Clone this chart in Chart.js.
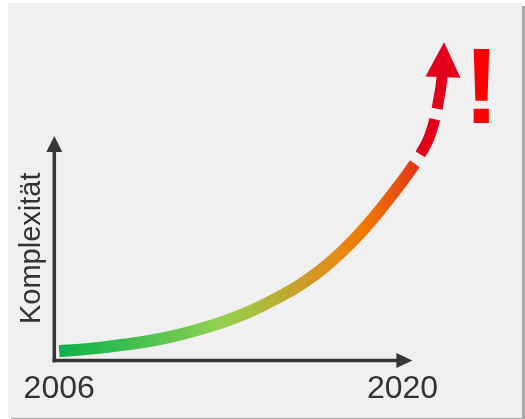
<!DOCTYPE html>
<html>
<head>
<meta charset="utf-8">
<script src="https://cdn.jsdelivr.net/npm/chart.js@4/dist/chart.umd.min.js"></script>
<style>
  html, body { margin: 0; padding: 0; background: #ffffff; }
  canvas { display: block; }
</style>
</head>
<body>
<canvas id="c" width="525" height="419"></canvas>
<script>
// ---- data ----
const years = [2006, 2007, 2008, 2009, 2010, 2011, 2012, 2013, 2014, 2015, 2016, 2017, 2018, 2019, 2020, 2020.5];
const complexity = [4.2, 5.0, 6.2, 7.6, 9.4, 11.8, 14.8, 18.5, 23.0, 28.5, 35.0, 43.3, 53.6, 66.0, 80.0, 87.6];
const forecastYears = [2020.5, 2021.12, 2021.53, 2021.67];
const forecast = [87.6, 100.4, 119.6, 134];
const tickYears = [2006, 2020];
const yAxisTitle = 'Komplexität';
const alertMark = '!';

const FONT = "'Liberation Sans', Arial, sans-serif";
const AXIS_COLOR = '#363636';
const TEXT_COLOR = '#333333';
const DASH_RED = '#e2001a';

function makeGradient(chart) {
  const { ctx, chartArea, scales } = chart;
  if (!chartArea) return '#0db14b';
  const x0 = scales.x.getPixelForValue(years[0]);
  const x1 = scales.x.getPixelForValue(years[years.length - 1]);
  const g = ctx.createLinearGradient(x0, 0, x1, 0);
  const stops = [
    [0.00, '#0db14b'], [0.20, '#40bf50'], [0.45, '#92d050'], [0.54, '#a6c23e'],
    [0.67, '#c8a02a'], [0.78, '#e58a18'], [0.86, '#f07800'], [0.95, '#ea5212'], [1.0, '#e5381a']
  ];
  stops.forEach(s => g.addColorStop(s[0], s[1]));
  return g;
}

const decorPlugin = {
  id: 'decor',
  beforeDraw(chart) {
    const c = chart.ctx;
    c.save();
    c.fillStyle = '#a8a8a8';
    c.fillRect(11, 6, 514, 413);
    c.fillStyle = '#f0f0f0';
    c.fillRect(8, 3, 514, 415);
    c.restore();
  },
  beforeDatasetsDraw(chart) {
    const c = chart.ctx;
    const a = chart.chartArea;
    const xs = chart.scales.x;
    const ox = a.left, oy = a.bottom;
    const xTip = xs.getPixelForValue(2020.4);
    c.save();
    c.strokeStyle = AXIS_COLOR;
    c.fillStyle = AXIS_COLOR;
    c.lineWidth = 3.5;
    c.lineCap = 'butt';
    c.beginPath();
    c.moveTo(ox, oy + 1.75);
    c.lineTo(ox, a.top + 14);
    c.stroke();
    c.beginPath();
    c.moveTo(ox, a.top);
    c.lineTo(ox - 8, a.top + 16);
    c.lineTo(ox + 8, a.top + 16);
    c.closePath();
    c.fill();
    c.beginPath();
    c.moveTo(ox - 1.75, oy);
    c.lineTo(xTip - 14, oy);
    c.stroke();
    c.beginPath();
    c.moveTo(xTip, oy);
    c.lineTo(xTip - 16, oy - 7.5);
    c.lineTo(xTip - 16, oy + 7.5);
    c.closePath();
    c.fill();
    c.restore();
  },
  afterDatasetsDraw(chart) {
    const c = chart.ctx;
    const meta = chart.getDatasetMeta(1);
    const pts = meta.data;
    const p = pts[pts.length - 1];
    c.save();
    c.translate(p.x, p.y);
    c.rotate(0.03);
    c.fillStyle = DASH_RED;
    c.beginPath();
    c.moveTo(0, -17.5);
    c.lineTo(-17.5, 17.5);
    c.lineTo(17.5, 17.5);
    c.closePath();
    c.fill();
    c.restore();
    c.save();
    c.fillStyle = '#ff0000';
    c.font = 'bold 108px ' + FONT;
    c.textAlign = 'center';
    c.textBaseline = 'alphabetic';
    c.fillText(alertMark, 481.5, 123);
    c.restore();
  }
};

new Chart(document.getElementById('c'), {
  type: 'line',
  data: {
    datasets: [
      {
        data: years.map((x, i) => ({ x, y: complexity[i] })),
        borderColor: ctx => makeGradient(ctx.chart),
        borderWidth: 12,
        borderCapStyle: 'butt',
        tension: 0.4,
        pointRadius: 0,
        clip: false,
        fill: false
      },
      {
        data: forecastYears.map((x, i) => ({ x, y: forecast[i] })),
        borderColor: DASH_RED,
        borderWidth: 11,
        borderCapStyle: 'butt',
        borderDash: [38, 11],
        borderDashOffset: 38,
        tension: 0.4,
        pointRadius: 0,
        clip: false,
        fill: false
      }
    ]
  },
  options: {
    responsive: false,
    animation: false,
    devicePixelRatio: 1,
    layout: { padding: { left: 8, top: 136, right: 55, bottom: 2 } },
    plugins: { legend: { display: false }, tooltip: { enabled: false } },
    font: { family: FONT },
    scales: {
      x: {
        type: 'linear',
        min: 2005.8,
        max: 2022.75,
        grid: { display: false, drawTicks: false },
        border: { display: false },
        afterBuildTicks: s => { s.ticks = tickYears.map(v => ({ value: v })); },
        ticks: {
          autoSkip: false,
          maxRotation: 0,
          padding: 9,
          color: TEXT_COLOR,
          font: { size: 32, family: FONT },
          callback: v => String(v)
        }
      },
      y: {
        type: 'linear',
        min: 0,
        max: 100,
        grid: { display: false, drawTicks: false },
        border: { display: false },
        ticks: { display: false },
        title: {
          display: true,
          text: yAxisTitle,
          color: TEXT_COLOR,
          font: { size: 29, family: FONT },
          padding: { top: 6.5, bottom: 5 }
        }
      }
    }
  },
  plugins: [decorPlugin]
});
</script>
</body>
</html>
